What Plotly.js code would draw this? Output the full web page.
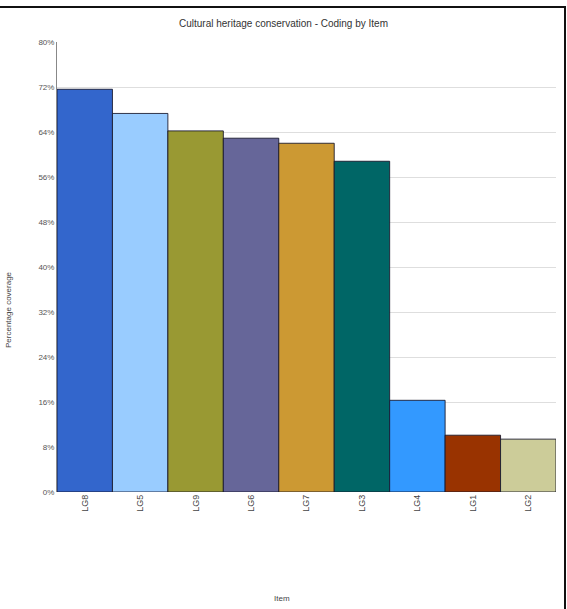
<!DOCTYPE html>
<html>
<head>
<meta charset="utf-8">
<script src="https://cdn.plot.ly/plotly-3.0.1.min.js"></script>
<style>
  html, body { margin: 0; padding: 0; background: #fff; }
  #wrap { position: relative; width: 567px; height: 609px; overflow: hidden; }
  #chart { position: absolute; left: 0; top: 0; width: 567px; height: 609px; }
  #frame { position: absolute; left: -4px; top: 6px; width: 570px; height: 620px;
           border-top: 2px solid #111; border-right: 2px solid #111; box-sizing: border-box; pointer-events: none; }
</style>
</head>
<body>
<div id="wrap">
  <div id="chart"></div>
  <div id="frame"></div>
</div>
<script>
const categories = ["LG8", "LG5", "LG9", "LG6", "LG7", "LG3", "LG4", "LG1", "LG2"];
const coverage = [71.6, 67.3, 64.2, 62.9, 62.0, 58.8, 16.3, 10.1, 9.4];
const barColors = ["#3366CC", "#99CCFF", "#999933", "#666699", "#CC9933", "#006666", "#3399FF", "#993300", "#CCCC99"];
const yTicks = [0, 8, 16, 24, 32, 40, 48, 56, 64, 72, 80];
const yTickLabels = yTicks.map(v => v + "%");

const font = "Liberation Sans, Arial, sans-serif";

Plotly.newPlot("chart", [{
  type: "bar",
  x: categories,
  y: coverage,
  marker: { color: barColors, line: { color: "rgba(20,20,40,0.85)", width: 1 } },
  hoverinfo: "x+y"
}], {
  width: 567, height: 609,
  margin: { l: 57, r: 11, t: 42, b: 117 },
  paper_bgcolor: "#fff", plot_bgcolor: "#fff",
  bargap: 0,
  showlegend: false,
  font: { family: font, size: 8, color: "#444" },
  xaxis: {
    type: "category",
    tickangle: -90,
    tickfont: { size: 9, color: "#444", family: font },
    showgrid: false, zeroline: false, showline: false,
    ticks: "", ticklen: 0
  },
  yaxis: {
    range: [0, 80],
    tickvals: yTicks, ticktext: yTickLabels,
    tickfont: { size: 8, color: "#555", family: font },
    showgrid: true, gridcolor: "#dedede", gridwidth: 1,
    zeroline: false,
    showline: true, linecolor: "#888", linewidth: 1,
    ticks: "", ticklen: 0
  },
  annotations: [
    { text: "Cultural heritage conservation - Coding by Item", xref: "paper", yref: "paper",
      x: (283 - 57) / 499, y: 1 + (42 - 23) / 450, xanchor: "center", yanchor: "middle",
      showarrow: false, font: { size: 10, color: "#333", family: font } },
    { text: "Percentage coverage", xref: "paper", yref: "paper", textangle: -90,
      x: (8 - 57) / 499, y: (492 - 310) / 450, xanchor: "center", yanchor: "middle",
      showarrow: false, font: { size: 8, color: "#444", family: font } },
    { text: "Item", xref: "paper", yref: "paper",
      x: (282 - 57) / 499, y: -(598 - 492) / 450, xanchor: "center", yanchor: "middle",
      showarrow: false, font: { size: 8, color: "#444", family: font } }
  ]
}, { displayModeBar: false, staticPlot: true });
</script>
</body>
</html>
